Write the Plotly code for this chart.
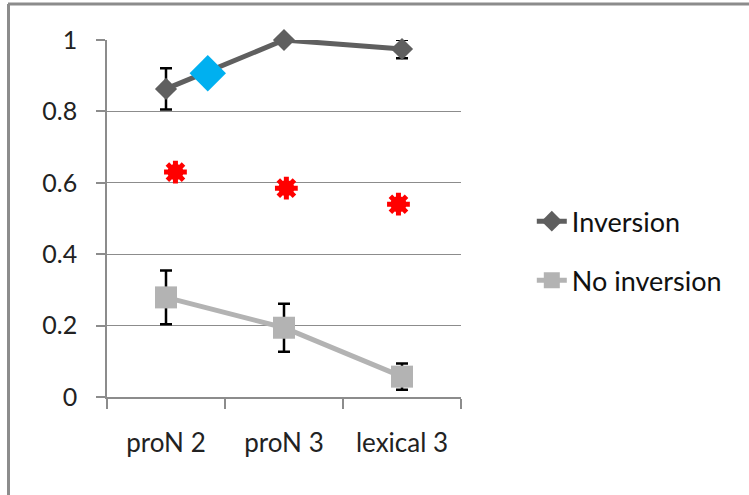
import plotly.graph_objects as go

categories = ["proN 2", "proN 3", "lexical 3"]
inversion = [0.863, 1.0, 0.975]
inversion_err = [0.058, 0.0, 0.026]
no_inversion = [0.279, 0.194, 0.057]
no_inversion_err = [0.075, 0.067, 0.037]

star_x = [0.08, 1.02, 1.97]
star_y = [0.63, 0.585, 0.54]
blue_x = [0.354]
blue_y = [0.907]

FONT = "Lato"
fig = go.Figure()

fig.add_trace(go.Scatter(
    x=categories, y=inversion, name="Inversion", mode="lines+markers",
    line=dict(color="#5f5f5f", width=5),
    marker=dict(symbol="diamond", size=17, color="#5f5f5f"),
    error_y=dict(type="data", array=inversion_err, color="black", thickness=2.5, width=6),
    legendgroup="a", cliponaxis=False,
))
fig.add_trace(go.Scatter(
    x=categories, y=no_inversion, name="No inversion", mode="lines+markers",
    line=dict(color="#b3b3b3", width=5),
    marker=dict(symbol="square", size=22, color="#b3b3b3"),
    error_y=dict(type="data", array=no_inversion_err, color="black", thickness=2.5, width=6),
    legendgroup="b", cliponaxis=False,
))
fig.add_trace(go.Scatter(
    x=blue_x, y=blue_y, xaxis="x2", mode="markers", showlegend=False,
    marker=dict(symbol="diamond", size=28, color="#00b0f0"), cliponaxis=False,
))
fig.add_trace(go.Scatter(
    x=star_x, y=star_y, xaxis="x2", mode="markers", showlegend=False,
    marker=dict(symbol="circle", size=16, color="red"), cliponaxis=False,
))
fig.add_trace(go.Scatter(
    x=star_x, y=star_y, xaxis="x2", mode="markers", showlegend=False,
    marker=dict(symbol="asterisk-open", size=19, color="red", line=dict(color="red", width=5)),
    cliponaxis=False,
))

fig.update_layout(
    width=749, height=495,
    margin=dict(l=107, r=288, t=40, b=98),
    paper_bgcolor="white", plot_bgcolor="white",
    font=dict(family=FONT, size=24, color="#222"),
    xaxis=dict(
        type="category", range=[-0.5, 2.5], tickson="boundaries",
        ticks="outside", ticklen=10, tickcolor="#8c8c8c", tickwidth=1.5,
        showline=True, linecolor="#8c8c8c", linewidth=1.5,
        showgrid=False, zeroline=False, fixedrange=True,
        ticklabelstandoff=22,
        tickfont=dict(family=FONT, size=26, color="#222"),
    ),
    xaxis2=dict(
        overlaying="x", range=[-0.5, 2.5], visible=False, type="linear",
    ),
    yaxis=dict(
        range=[0, 1], tickvals=[0, 0.2, 0.4, 0.6, 0.8, 1], ticktext=["0", "0.2", "0.4", "0.6", "0.8", "1"],
        ticks="outside", ticklen=9, tickcolor="#8c8c8c", tickwidth=1.5,
        showline=True, linecolor="#8c8c8c", linewidth=1.5,
        showgrid=True, gridcolor="#8c8c8c", gridwidth=1.2, zeroline=False,
        ticklabelstandoff=14,
        tickfont=dict(family=FONT, size=25, color="#222"),
    ),
    legend=dict(
        x=1.2, xanchor="left", y=0.56, yanchor="top",
        font=dict(family=FONT, size=27, color="#111"),
        tracegroupgap=21, traceorder="grouped",
        bgcolor="rgba(0,0,0,0)",
    ),
    shapes=[
        dict(type="line", xref="paper", yref="paper",
             x0=(8 - 107) / 354, x1=(749 - 107) / 354, y0=(397 - 4) / 357, y1=(397 - 4) / 357,
             line=dict(color="#8c8c8c", width=3)),
        dict(type="line", xref="paper", yref="paper",
             x0=(8.5 - 107) / 354, x1=(8.5 - 107) / 354, y0=(397 - 4) / 357, y1=(397 - 500) / 357,
             line=dict(color="#8c8c8c", width=3)),
    ],
)

fig.write_html("out.html")
